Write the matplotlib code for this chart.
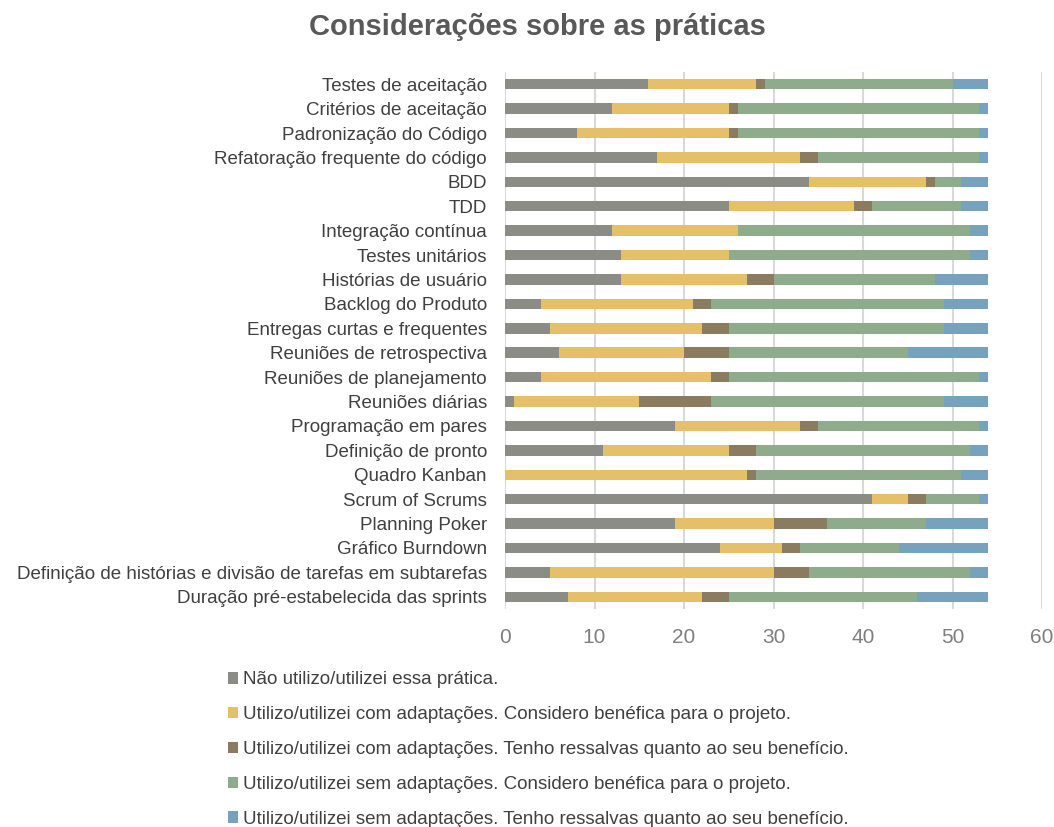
import matplotlib
matplotlib.use("Agg")
import matplotlib.pyplot as plt
import numpy as np

plt.rcParams['font.family'] = ['Liberation Sans Narrow', 'Liberation Sans', 'DejaVu Sans']

# Practices, top to bottom as shown
categorias = [
    "Testes de aceitação",
    "Critérios de aceitação",
    "Padronização do Código",
    "Refatoração frequente do código",
    "BDD",
    "TDD",
    "Integração contínua",
    "Testes unitários",
    "Histórias de usuário",
    "Backlog do Produto",
    "Entregas curtas e frequentes",
    "Reuniões de retrospectiva",
    "Reuniões de planejamento",
    "Reuniões diárias",
    "Programação em pares",
    "Definição de pronto",
    "Quadro Kanban",
    "Scrum of Scrums",
    "Planning Poker",
    "Gráfico Burndown",
    "Definição de histórias e divisão de tarefas em subtarefas",
    "Duração pré-estabelecida das sprints",
]

nao_utilizo     = [16, 12, 8, 17, 34, 25, 12, 13, 13, 4, 5, 6, 4, 1, 19, 11, 0, 41, 19, 24, 5, 7]
com_adapt_bom   = [12, 13, 17, 16, 13, 14, 14, 12, 14, 17, 17, 14, 19, 14, 14, 14, 27, 4, 11, 7, 25, 15]
com_adapt_ress  = [1, 1, 1, 2, 1, 2, 0, 0, 3, 2, 3, 5, 2, 8, 2, 3, 1, 2, 6, 2, 4, 3]
sem_adapt_bom   = [21, 27, 27, 18, 3, 10, 26, 27, 18, 26, 24, 20, 28, 26, 18, 24, 23, 6, 11, 11, 18, 21]
sem_adapt_ress  = [4, 1, 1, 1, 3, 3, 2, 2, 6, 5, 5, 9, 1, 5, 1, 2, 3, 1, 7, 10, 2, 8]

series = [
    ("Não utilizo/utilizei essa prática.", nao_utilizo, "#8c8c86"),
    ("Utilizo/utilizei com adaptações. Considero benéfica para o projeto.", com_adapt_bom, "#e6bf69"),
    ("Utilizo/utilizei com adaptações. Tenho ressalvas quanto ao seu benefício.", com_adapt_ress, "#8b7b5f"),
    ("Utilizo/utilizei sem adaptações. Considero benéfica para o projeto.", sem_adapt_bom, "#8eab8b"),
    ("Utilizo/utilizei sem adaptações. Tenho ressalvas quanto ao seu benefício.", sem_adapt_ress, "#76a2bd"),
]

W, H = 1054, 827
fig = plt.figure(figsize=(W / 100, H / 100), dpi=100)
ax = fig.add_axes([505 / W, 1 - 609 / H, (1042 - 505) / W, (609 - 72) / H])

y = np.arange(len(categorias))
left = np.zeros(len(categorias))
for label, vals, color in series:
    vals = np.array(vals, dtype=float)
    ax.barh(y, vals, left=left, height=0.43, color=color, label=label, zorder=3)
    left += vals

ax.set_ylim(len(categorias) - 0.5, -0.5)
ax.set_xlim(0, 60)
ax.set_xticks(np.arange(0, 61, 10))
ax.set_yticks(y)
ax.set_yticklabels(categorias, fontsize=13.5, color="#404040")
ax.tick_params(axis='both', length=0)
ax.tick_params(axis='x', pad=14, labelsize=15, labelcolor="#7f7f7f")
ax.tick_params(axis='y', pad=13)
ax.grid(axis='x', color="#d9d9d9", linewidth=1.5, zorder=0)
for s in ax.spines.values():
    s.set_visible(False)

fig.text(537 / W, 1 - 27 / H, "Considerações sobre as práticas", ha='center', va='center',
         fontsize=21, fontweight='bold', color="#595959", family=['Liberation Sans', 'DejaVu Sans'])

fig.legend(loc='upper left', bbox_to_anchor=(220 / W, 1 - 664 / H), frameon=False,
           fontsize=13.5, labelcolor="#404040", handlelength=0.55, handleheight=0.55,
           handletextpad=0.3, labelspacing=0.95, borderaxespad=0)

fig.savefig("out.png", dpi=100)
